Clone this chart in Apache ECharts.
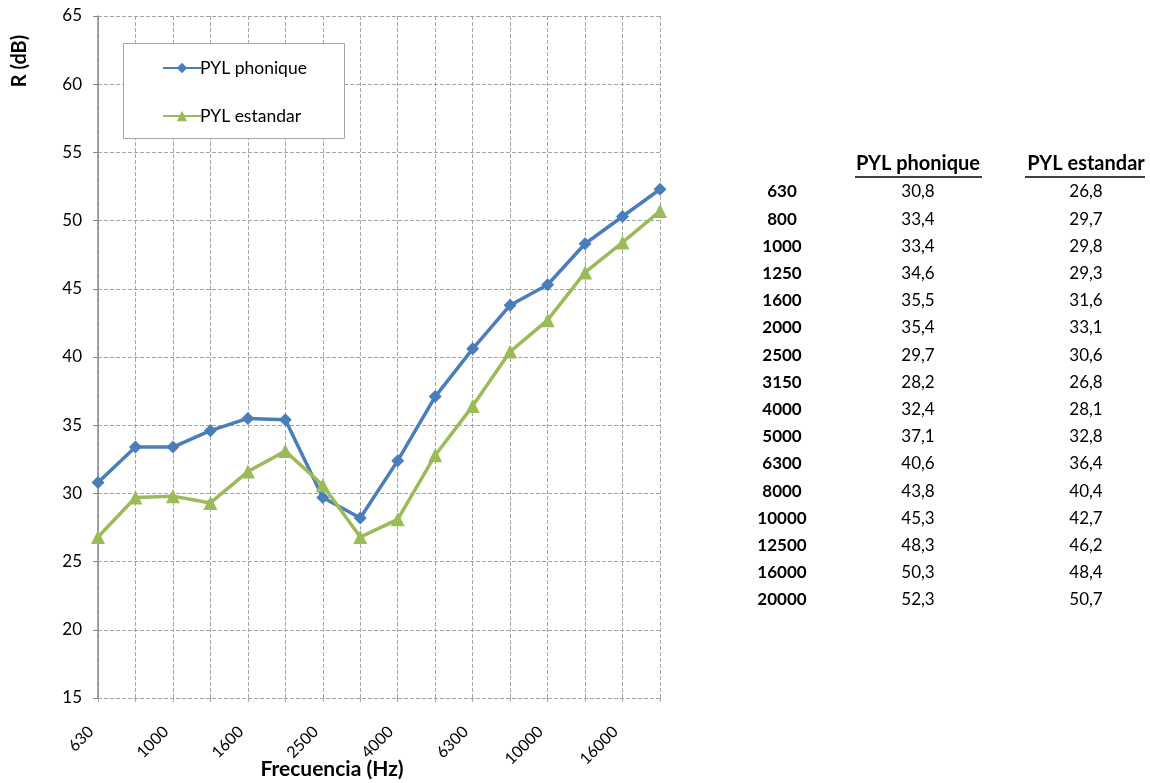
<!DOCTYPE html>
<html>
<head>
<meta charset="utf-8">
<script src="https://cdn.jsdelivr.net/npm/echarts@6/dist/echarts.min.js"></script>
<style>
  html, body { margin: 0; padding: 0; background: #fff; }
  #chart { width: 1150px; height: 783px; }
</style>
</head>
<body>
<div id="chart"></div>
<script>
// Third-octave band centre frequencies (Hz)
const frequencies = ['630', '800', '1000', '1250', '1600', '2000', '2500', '3150',
  '4000', '5000', '6300', '8000', '10000', '12500', '16000', '20000'];
// Sound reduction index R (dB) per band
const pylPhonique = [30.8, 33.4, 33.4, 34.6, 35.5, 35.4, 29.7, 28.2,
  32.4, 37.1, 40.6, 43.8, 45.3, 48.3, 50.3, 52.3];
const pylEstandar = [26.8, 29.7, 29.8, 29.3, 31.6, 33.1, 30.6, 26.8,
  28.1, 32.8, 36.4, 40.4, 42.7, 46.2, 48.4, 50.7];
const seriesNames = ['PYL phonique', 'PYL estandar'];

const FONT = 'Lato, "Open Sans", sans-serif';
const BLUE = '#4a7ebb';
const GREEN = '#9bbb59';

const chart = echarts.init(document.getElementById('chart'));

// Data table to the right of the plot
const fmt = v => v.toFixed(1).replace('.', ',');
const extras = [];
const colX = [782, 918, 1086];
const headerY = 164;
const rowY0 = 192, rowStep = 27.2;
seriesNames.forEach((name, i) => {
  extras.push({
    type: 'text', x: colX[i + 1], y: headerY,
    style: { text: name, font: 'bold 20px ' + FONT, fill: '#000', align: 'center', verticalAlign: 'middle' }
  });
});
// header underlines
extras.push({ type: 'line', shape: { x1: 855, y1: 177, x2: 982, y2: 177 }, style: { stroke: '#000', lineWidth: 1.3 } });
extras.push({ type: 'line', shape: { x1: 1025, y1: 177, x2: 1145, y2: 177 }, style: { stroke: '#000', lineWidth: 1.3 } });
frequencies.forEach((f, r) => {
  const y = rowY0 + r * rowStep;
  extras.push({ type: 'text', x: colX[0], y: y,
    style: { text: f, font: 'bold 17px ' + FONT, fill: '#000', align: 'center', verticalAlign: 'middle' } });
  extras.push({ type: 'text', x: colX[1], y: y,
    style: { text: fmt(pylPhonique[r]), font: '17px ' + FONT, fill: '#000', align: 'center', verticalAlign: 'middle' } });
  extras.push({ type: 'text', x: colX[2], y: y,
    style: { text: fmt(pylEstandar[r]), font: '17px ' + FONT, fill: '#000', align: 'center', verticalAlign: 'middle' } });
});

// Legend frame
extras.push({
  type: 'rect', z: 5, shape: { x: 123.5, y: 43.5, width: 221, height: 95 },
  style: { fill: '#fff', stroke: '#a6a6a6', lineWidth: 1 }
});

// Axis titles
extras.push({
  type: 'text', x: 20, y: 61, rotation: Math.PI / 2,
  style: { text: 'R (dB)', font: 'bold 20px ' + FONT, fill: '#000', align: 'center', verticalAlign: 'middle' }
});
extras.push({
  type: 'text', x: 332, y: 769,
  style: { text: 'Frecuencia (Hz)', font: 'bold 21px ' + FONT, fill: '#000', align: 'center', verticalAlign: 'middle' }
});

const option = {
  animation: false,
  backgroundColor: '#fff',
  textStyle: { fontFamily: FONT },
  grid: { left: 98, right: 490, top: 16, bottom: 85, containLabel: false },
  legend: {
    orient: 'vertical', left: 157, top: 54, itemGap: 30, z: 10,
    itemWidth: 38, itemHeight: 13,
    textStyle: { fontSize: 17.5, color: '#000', fontFamily: FONT, padding: [0, 0, 0, -6] },
    data: seriesNames
  },
  graphic: extras,
  xAxis: {
    type: 'category', data: frequencies, boundaryGap: false,
    axisLine: { show: false },
    axisTick: { show: true, alignWithLabel: true, length: 4, interval: 0, lineStyle: { color: '#a6a6a6' } },
    axisLabel: { interval: 1, rotate: 45, fontSize: 16, color: '#000', margin: 24, padding: [0, 10, 0, 0], fontFamily: FONT },
    splitLine: { show: true, interval: 0, lineStyle: { type: [4, 2], color: '#a6a6a6', width: 1 } }
  },
  yAxis: {
    type: 'value', min: 15, max: 65, interval: 5,
    axisLine: { show: true, lineStyle: { color: '#868686', width: 1.5 } },
    axisTick: { show: true, length: 5, lineStyle: { color: '#868686' } },
    axisLabel: { fontSize: 17, color: '#000', margin: 16, fontFamily: FONT },
    splitLine: { show: true, lineStyle: { type: [4, 2], color: '#a6a6a6', width: 1 } }
  },
  series: [
    {
      name: seriesNames[0], type: 'line', data: pylPhonique,
      symbol: 'diamond', symbolSize: 13,
      lineStyle: { color: BLUE, width: 3.5 },
      itemStyle: { color: BLUE }
    },
    {
      name: seriesNames[1], type: 'line', data: pylEstandar,
      symbol: 'triangle', symbolSize: 14,
      lineStyle: { color: GREEN, width: 3.5 },
      itemStyle: { color: GREEN }
    }
  ]
};
chart.setOption(option);
</script>
</body>
</html>
